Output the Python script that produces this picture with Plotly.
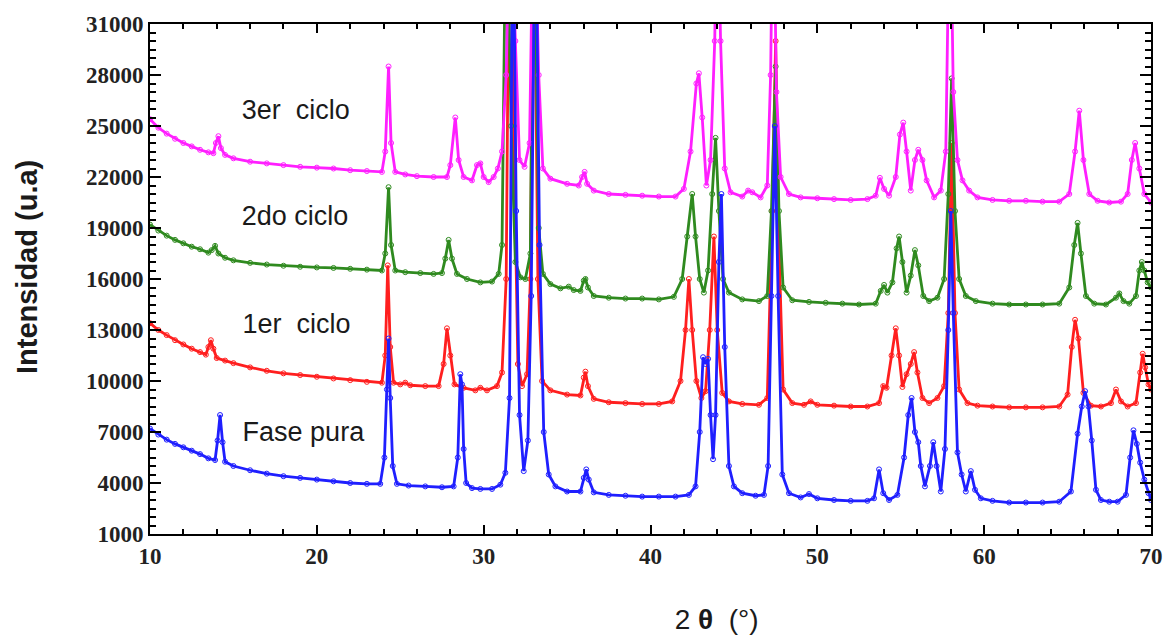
import plotly.graph_objects as go

# ---- data (2θ in degrees, intensity in a.u.) ----
fase_pura = [(10,7200),(10.5,6850),(11,6550),(11.5,6300),(12,6100),(12.5,5900),(13,5700),(13.5,5450),(13.9,5350),(14.05,6500),(14.2,8000),(14.35,6400),(14.5,5250),(15,5000),(16,4750),(17,4550),(18,4400),(19,4300),(20,4200),(21,4100),(22,4000),(23,3950),(23.8,3950),(24.05,5500),(24.2,9500),(24.3,12500),(24.4,9000),(24.55,5000),(24.8,3950),(25.5,3850),(26.5,3800),(27.5,3750),(28.2,3800),(28.45,5500),(28.6,10400),(28.7,9800),(28.8,6000),(28.95,4000),(29.3,3700),(29.8,3650),(30.5,3650),(31.0,3900),(31.3,4600),(31.55,9000),(31.75,40000),(31.95,20000),(32.15,8000),(32.4,4700),(32.65,6500),(32.85,15000),(33.1,40000),(33.35,18000),(33.6,7000),(33.9,4500),(34.3,3800),(35,3500),(35.8,3500),(36.0,4300),(36.15,4800),(36.3,4200),(36.6,3450),(37.5,3300),(38.5,3250),(39.5,3200),(40.5,3200),(41.5,3200),(42.3,3300),(42.7,3800),(42.95,7000),(43.15,11400),(43.3,11000),(43.45,11300),(43.6,8000),(43.75,5400),(43.9,8000),(44.1,17000),(44.25,21000),(44.45,12000),(44.7,5000),(45.0,3800),(45.5,3400),(46.3,3250),(46.8,3300),(47.05,5000),(47.25,15000),(47.45,25000),(47.65,15000),(47.9,4500),(48.3,3400),(49,3150),(49.5,3350),(50,3100),(51,3000),(52,2950),(53,2950),(53.4,3100),(53.7,4800),(53.95,3400),(54.3,3000),(54.8,3300),(55.2,5500),(55.45,8000),(55.65,9000),(55.85,7000),(56.05,6400),(56.2,5000),(56.45,3800),(56.75,5000),(56.95,6400),(57.15,5000),(57.4,3500),(57.65,6000),(57.85,13000),(58.0,20000),(58.15,14000),(58.4,5800),(58.65,4500),(58.9,3500),(59.2,4700),(59.45,3600),(59.8,3100),(60.5,2950),(61.5,2850),(62.5,2850),(63.5,2850),(64.5,2900),(65.2,3500),(65.6,6900),(65.85,8500),(66.05,9400),(66.25,8500),(66.45,6500),(66.7,3600),(67.0,3000),(67.5,2900),(68.0,2900),(68.5,3300),(68.75,5500),(68.95,7100),(69.15,6300),(69.35,5200),(69.6,4200),(69.85,3400),(70,3000)]

ciclo_1 = [(10,13400),(10.5,13000),(11,12700),(11.5,12400),(12,12150),(12.5,11900),(13,11700),(13.35,11550),(13.5,12000),(13.65,12400),(13.8,11900),(14,11350),(14.5,11200),(15,11050),(16,10800),(17,10600),(18,10450),(19,10350),(20,10250),(21,10150),(22,10050),(23,9950),(23.9,9900),(24.1,11500),(24.25,16800),(24.4,12000),(24.6,9900),(25,9800),(25.3,9900),(25.6,9750),(26.5,9700),(27.3,9700),(27.6,11000),(27.8,13100),(28.0,11500),(28.25,9800),(28.8,9600),(29.5,9450),(29.8,9600),(30.2,9450),(30.8,9700),(31.1,10500),(31.35,16000),(31.55,40000),(31.8,25000),(32.05,11000),(32.3,9700),(32.6,10400),(32.8,16000),(33.0,40000),(33.25,16000),(33.5,10000),(34,9450),(35,9200),(35.8,9150),(36.0,10200),(36.1,10550),(36.25,9700),(36.6,8950),(37.5,8750),(38.5,8700),(39.5,8650),(40.5,8650),(41.3,8800),(41.8,10000),(42.1,13000),(42.3,16000),(42.5,13000),(42.75,10000),(43.05,9000),(43.3,9400),(43.55,13000),(43.8,18500),(44.0,13000),(44.3,9300),(44.7,8800),(45.5,8650),(46.5,8600),(47.0,9000),(47.3,20000),(47.5,30000),(47.7,18000),(47.95,9500),(48.5,8700),(49.2,8600),(49.6,8800),(50,8600),(51,8550),(52,8500),(53,8500),(53.7,8700),(53.95,9700),(54.15,9600),(54.45,11500),(54.7,13100),(54.9,11500),(55.1,9650),(55.35,10400),(55.6,11000),(55.8,11700),(56.0,10500),(56.3,9000),(56.7,8700),(57.2,9000),(57.6,9700),(57.85,14000),(58.05,24000),(58.25,14000),(58.5,9500),(59,8700),(59.6,8550),(60.5,8500),(61.5,8450),(62.5,8450),(63.5,8450),(64.5,8500),(65.0,9200),(65.25,12000),(65.45,13600),(65.65,12500),(65.95,9300),(66.4,8550),(67,8500),(67.6,8700),(67.9,9500),(68.2,8800),(68.6,8500),(69.1,8700),(69.35,10500),(69.5,11600),(69.65,10800),(69.85,9800),(70,9500)]

ciclo_2 = [(10,19200),(10.5,18850),(11,18550),(11.5,18300),(12,18100),(12.5,17900),(13,17750),(13.5,17550),(13.7,17700),(13.9,17950),(14.1,17500),(14.5,17250),(15,17100),(16,16950),(17,16850),(18,16780),(19,16720),(20,16680),(21,16650),(22,16600),(23,16550),(23.9,16500),(24.1,17500),(24.3,21400),(24.45,18000),(24.7,16500),(25.3,16400),(26.2,16350),(27,16300),(27.5,16350),(27.7,17200),(27.9,18300),(28.1,17200),(28.4,16300),(29,16000),(29.8,15800),(30.5,15850),(30.9,16300),(31.1,18000),(31.35,40000),(31.65,25000),(31.9,17000),(32.2,16100),(32.5,16000),(32.8,17500),(33.0,40000),(33.3,19000),(33.55,16300),(34,15700),(34.6,15450),(35.1,15550),(35.4,15350),(35.8,15300),(36.0,15900),(36.1,16000),(36.25,15500),(36.6,15000),(37.5,14900),(38.5,14850),(39.5,14850),(40.5,14800),(41.4,14950),(41.9,16000),(42.2,18500),(42.5,21000),(42.7,18500),(42.95,16000),(43.2,15200),(43.45,16500),(43.7,21000),(43.9,24300),(44.1,20000),(44.35,16000),(44.7,15200),(45.5,14800),(46.5,14700),(47.0,15000),(47.25,20000),(47.5,28500),(47.7,20000),(47.95,15500),(48.5,14750),(49.5,14650),(50.5,14600),(51.5,14550),(52.5,14500),(53.5,14550),(53.8,15300),(54.0,15650),(54.2,15200),(54.5,15800),(54.75,17800),(54.9,18500),(55.1,17000),(55.35,15200),(55.6,16200),(55.85,17700),(56.05,16800),(56.35,15000),(56.7,14700),(57.2,14900),(57.6,16000),(57.85,21000),(58.05,27800),(58.25,20000),(58.5,16000),(58.9,15000),(59.5,14700),(60.5,14550),(61.5,14500),(62.5,14500),(63.5,14500),(64.5,14550),(65.1,15500),(65.4,18000),(65.6,19300),(65.8,17500),(66.1,15000),(66.6,14550),(67.3,14500),(67.9,14900),(68.1,15150),(68.35,14700),(68.7,14550),(69.1,15000),(69.3,16500),(69.45,17000),(69.6,16500),(69.8,15800),(70,15500)]

ciclo_3 = [(10,25400),(10.5,24900),(11,24550),(11.5,24250),(12,24000),(12.5,23800),(13,23600),(13.5,23450),(13.8,23400),(13.95,24000),(14.1,24400),(14.25,23700),(14.5,23300),(15,23100),(16,22900),(17,22800),(18,22700),(19,22600),(20,22550),(21,22500),(22,22400),(23,22350),(23.9,22300),(24.1,23500),(24.3,28500),(24.45,24000),(24.7,22300),(25.3,22150),(26,22050),(27,22000),(27.8,22000),(28.0,22700),(28.3,25500),(28.5,23000),(28.8,22000),(29.3,21800),(29.6,22700),(29.8,22800),(30.0,22000),(30.3,21700),(30.6,22000),(30.85,22500),(31.1,23500),(31.35,28000),(31.6,40000),(31.9,30000),(32.15,23000),(32.45,22600),(32.75,24000),(33.0,40000),(33.3,28000),(33.55,22500),(34,21900),(35,21600),(35.7,21500),(35.9,22000),(36.05,22300),(36.2,21600),(36.6,21200),(37.5,21000),(38.5,20950),(39.5,20900),(40.5,20850),(41.5,20850),(42.0,21300),(42.4,23500),(42.75,27500),(42.9,28100),(43.1,25500),(43.35,21500),(43.6,23000),(43.85,30000),(44.0,40000),(44.2,30000),(44.45,22500),(44.8,21100),(45.5,20850),(45.85,21200),(46.1,21100),(46.6,20800),(47.0,21500),(47.2,28000),(47.35,40000),(47.55,27000),(47.8,22000),(48.3,21000),(49,20800),(50,20750),(51,20700),(52,20650),(53,20700),(53.5,20900),(53.75,21950),(54.0,21300),(54.3,20900),(54.7,22000),(54.95,24500),(55.15,25200),(55.35,23500),(55.6,21200),(55.85,23000),(56.05,23600),(56.3,23000),(56.55,21800),(57.0,20800),(57.4,21200),(57.7,23500),(57.95,40000),(58.15,27000),(58.4,23000),(58.7,21800),(59.1,21200),(59.6,20800),(60.5,20650),(61.5,20600),(62.5,20600),(63.5,20550),(64.5,20550),(65.1,21000),(65.45,23500),(65.7,25900),(65.95,23000),(66.3,21000),(66.8,20600),(67.5,20500),(68.2,20550),(68.6,21000),(68.85,23000),(69.05,24000),(69.3,22500),(69.6,21000),(70,20500)]

series_names = ["1er  ciclo", "2do ciclo", "3er  ciclo", "Fase pura"]
series_data = [ciclo_1, ciclo_2, ciclo_3, fase_pura]
series_colors = ["#ff1f1f", "#2f8a1f", "#ff1fff", "#1f1fff"]

label_texts = ["3er  ciclo", "2do ciclo", "1er  ciclo", "Fase pura"]
label_x = [15.5, 15.5, 15.55, 15.55]
label_y = [25800, 19550, 13200, 6850]

NB = "\u00a0"
ZW = "\u200b"
x_title = ZW + NB * 17 + "2" + NB + "<b>θ</b>" + NB * 2 + "(°)"
y_title = ZW + NB * 3 + "<b>Intensidad (u.a)</b>"

y_ticks = [1000, 4000, 7000, 10000, 13000, 16000, 19000, 22000, 25000, 28000, 31000]
x_ticks = [10, 20, 30, 40, 50, 60, 70]
x_range = [10, 70]
y_range = [1000, 31000]

fig = go.Figure()
for name, pts, col in zip(series_names, series_data, series_colors):
    fig.add_trace(go.Scatter(
        x=[p[0] for p in pts], y=[p[1] for p in pts], mode="lines+markers", name=name,
        line=dict(color=col, width=2.8),
        marker=dict(symbol="circle-open", size=5, color=col, line=dict(width=1)),
        showlegend=False,
    ))

# series labels as a text trace
fig.add_trace(go.Scatter(
    x=label_x, y=label_y, mode="text",
    text=[t.replace(" ", NB) for t in label_texts], textposition="middle right",
    textfont=dict(family="Liberation Sans, Arial", size=27, color="#1a1a1a"),
    showlegend=False, hoverinfo="skip"))

tick_font = dict(family="Liberation Serif", size=23, color="#222222", weight="bold")
title_font = dict(family="Liberation Sans, Arial", color="#1a1a1a")

fig.update_layout(
    width=1175, height=642, margin=dict(l=150, r=23, t=15, b=106),
    paper_bgcolor="white", plot_bgcolor="white",
    xaxis=dict(range=x_range, tickvals=x_ticks, tickformat="d",
               showline=True, linecolor="black", linewidth=2, mirror="ticks",
               ticks="inside", ticklen=9, tickwidth=2, tickcolor="black",
               showgrid=False, zeroline=False, tickfont=tick_font,
               title=dict(text=x_title, standoff=42, font=dict(size=28, **title_font)),
               minor=dict(dtick=2, ticks="inside", ticklen=5, tickcolor="black")),
    yaxis=dict(range=y_range, tickvals=y_ticks, tickformat="d",
               showline=True, linecolor="black", linewidth=2, mirror="ticks",
               ticks="inside", ticklen=11, tickwidth=2, tickcolor="black",
               showgrid=False, zeroline=False, tickfont=tick_font,
               title=dict(text=y_title, standoff=40, font=dict(size=29, **title_font)),
               minor=dict(dtick=500, ticks="inside", ticklen=6, tickcolor="black")),
)

fig.write_html("out.html")
